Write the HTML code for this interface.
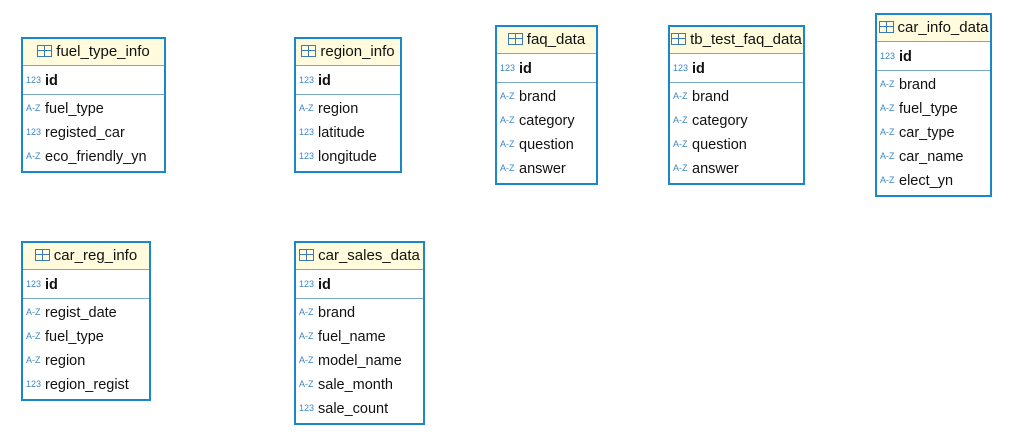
<!DOCTYPE html>
<html><head><meta charset="utf-8"><style>
body{margin:0;width:1031px;height:435px;background:#fff;position:relative;font-family:"Liberation Sans",sans-serif;overflow:hidden}
.t{position:absolute;box-sizing:border-box;border:2px solid #1a87c8;background:#fff}
.h{position:absolute;left:0;right:0;top:0;height:26px;background:#fffbdc;border-bottom:1px solid #7aa6c8;font-size:15px;color:#111;text-align:center;line-height:26px;white-space:nowrap}
.ic{display:inline-block;width:15px;height:12px;border:1px solid #3a7ab8;vertical-align:-1px;margin-right:4px;box-sizing:border-box;background:linear-gradient(#3a7ab8,#3a7ab8) 0 4px/100% 1px no-repeat,linear-gradient(#3a7ab8,#3a7ab8) 6px 0/1px 100% no-repeat}
.r{position:absolute;left:3px;font-size:14.5px;color:#111;white-space:nowrap;height:20px;line-height:20px}
.r b{font-weight:bold}
.k{display:inline-block;width:17px;font-size:9px;color:#3a86c4;vertical-align:2px;margin-right:2px}
.l{position:absolute;left:0;right:0;top:55px;border-top:1px solid #7aa6c8}
</style></head><body>
<div id="c"></div>
<script>
var T=[
["fuel_type_info",21,37,145,[["a","fuel_type"],["n","registed_car"],["a","eco_friendly_yn"]]],
["region_info",294,37,108,[["a","region"],["n","latitude"],["n","longitude"]]],
["faq_data",495,25,103,[["a","brand"],["a","category"],["a","question"],["a","answer"]]],
["tb_test_faq_data",668,25,137,[["a","brand"],["a","category"],["a","question"],["a","answer"]]],
["car_info_data",875,13,117,[["a","brand"],["a","fuel_type"],["a","car_type"],["a","car_name"],["a","elect_yn"]]],
["car_reg_info",21,241,130,[["a","regist_date"],["a","fuel_type"],["a","region"],["n","region_regist"]]],
["car_sales_data",294,241,131,[["a","brand"],["a","fuel_name"],["a","model_name"],["a","sale_month"],["n","sale_count"]]]];
var h="";
T.forEach(function(t){
var H=62+t[4].length*24+2;
h+='<div class="t" style="left:'+t[1]+'px;top:'+t[2]+'px;width:'+t[3]+'px;height:'+H+'px">';
h+='<div class="h"><span class="ic"></span>'+t[0]+'</div>';
h+='<div class="r" style="top:31px"><span class="k">123</span><b>id</b></div><div class="l"></div>';
t[4].forEach(function(r,i){h+='<div class="r" style="top:'+(59+i*24)+'px"><span class="k">'+(r[0]=="a"?"A-Z":"123")+'</span>'+r[1]+'</div>';});
h+='</div>';});
document.getElementById("c").innerHTML=h;
</script>
</body></html>
